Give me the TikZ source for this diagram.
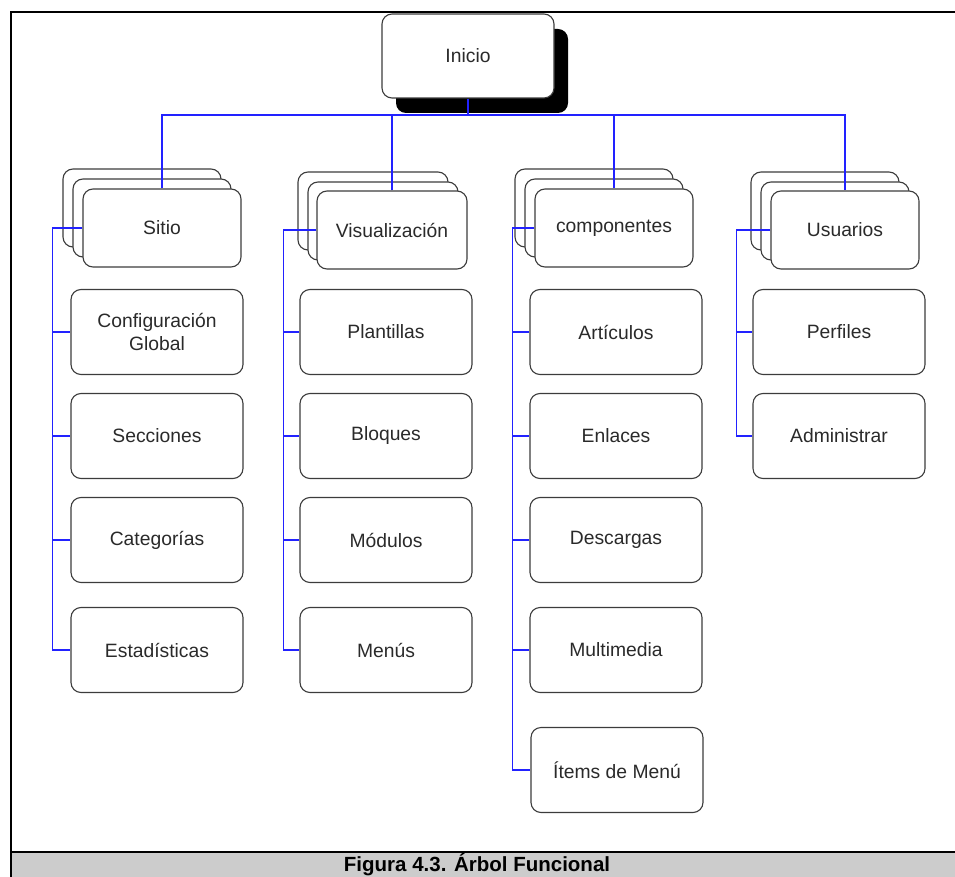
\documentclass[tikz,border=0pt]{standalone}
\usepackage{fontspec}
\setmainfont{Liberation Sans}
\usetikzlibrary{positioning, calc}
\definecolor{arBlue}{HTML}{2222FF}
\definecolor{arLine}{HTML}{3C3C3C}
\definecolor{arText}{HTML}{2A2A2A}
\definecolor{arBand}{HTML}{CCCCCC}
\tikzset{
  box/.style       = {draw=arLine, line width=1.1pt, fill=white, rounded corners=10pt,
                      text=arText, font=\fontsize{19.3}{23}\selectfont, align=center,
                      inner sep=0pt},
  leaf/.style      = {box, minimum width=172pt, minimum height=85pt},
  stackbox/.style  = {box, minimum width=#1, minimum height=78pt},
  shadowbox/.style = {fill=black, rounded corners=10pt, minimum width=172pt,
                      minimum height=84pt, inner sep=0pt},
  link/.style      = {arBlue, line width=1.1pt},
  frameline/.style = {black, line width=2pt},
  captext/.style   = {font=\fontsize{20.5}{24}\selectfont\bfseries, text=black},
}

\begin{document}
\begin{tikzpicture}[x=1pt,y=-1pt]
  \useasboundingbox (0,0) rectangle (955,877);
  % frame and caption band
  \fill[arBand] (11,852) rectangle (962,884);
  \draw[frameline] (11,884) -- (11,12) -- (962,12);
  \draw[frameline] (11,852) -- (962,852);
  \node[captext, anchor=base] (cap) at (477,871.5) {Figura 4.3. Árbol Funcional};

  % root
  \node[shadowbox] (inicio-s) at (482,71) {};
  \node[box, minimum width=172pt, minimum height=84pt] (inicio) at (468,56) {Inicio};
  \coordinate (bus) at (0,115);

  % stacks
  \node[stackbox=158pt] (sitio-c) at (142,208) {};
  \node[stackbox=158pt] (sitio-b) at (152,218) {};
  \node[stackbox=158pt] (sitio) at (162,228) {Sitio};
  \node[stackbox=150pt] (visual-c) at (373,211) {};
  \node[stackbox=150pt] (visual-b) at (383,221) {};
  \node[stackbox=150pt] (visual) at (392,230) {Visualización};
  \node[stackbox=158pt] (compo-c) at (594,208) {};
  \node[stackbox=158pt] (compo-b) at (604,218) {};
  \node[stackbox=158pt] (compo) at (614,228) {componentes};
  \node[stackbox=148pt] (usuarios-c) at (825,211) {};
  \node[stackbox=148pt] (usuarios-b) at (835,221) {};
  \node[stackbox=148pt] (usuarios) at (845,230) {Usuarios};

  % leaves
  \node[leaf] (config) at (157,332) {Configuración\\Global};
  \node[leaf] (secciones) at (157,436) {Secciones};
  \node[leaf] (categorias) at (157,540) {Categorías};
  \node[leaf] (estadisticas) at (157,650) {Estadísticas};
  \node[leaf] (plantillas) at (386,332) {Plantillas};
  \node[leaf] (bloques) at (386,436) {Bloques};
  \node[leaf] (modulos) at (386,540) {Módulos};
  \node[leaf] (menus) at (386,650) {Menús};
  \node[leaf] (articulos) at (616,332) {Artículos};
  \node[leaf] (enlaces) at (616,436) {Enlaces};
  \node[leaf] (descargas) at (616,540) {Descargas};
  \node[leaf] (multimedia) at (616,650) {Multimedia};
  \node[leaf] (items) at (617,770) {Ítems de Menú};
  \node[leaf] (perfiles) at (839,332) {Perfiles};
  \node[leaf] (administrar) at (839,436) {Administrar};

  % bus
  \draw[link] (inicio.south) -- (inicio.south |- bus);
  \draw[link] (sitio.north) -- (sitio.north |- bus) -- (usuarios.north |- bus) -- (usuarios.north);
  \draw[link] (visual.north) -- (visual.north |- bus);
  \draw[link] (compo.north) -- (compo.north |- bus);

  % trunks
  \draw[link] (sitio.west) -- ++(-30,0) coordinate (t1) |- (estadisticas.west);
  \foreach \c in {config, secciones, categorias}
    \draw[link] (t1 |- \c.west) -- (\c.west);
  \draw[link] (visual.west) -- ++(-33,0) coordinate (t2) |- (menus.west);
  \foreach \c in {plantillas, bloques, modulos}
    \draw[link] (t2 |- \c.west) -- (\c.west);
  \draw[link] (compo.west) -- ++(-22,0) coordinate (t3) |- (items.west);
  \foreach \c in {articulos, enlaces, descargas, multimedia}
    \draw[link] (t3 |- \c.west) -- (\c.west);
  \draw[link] (usuarios.west) -- ++(-34,0) coordinate (t4) |- (administrar.west);
  \draw[link] (t4 |- perfiles.west) -- (perfiles.west);
\end{tikzpicture}
\end{document}
